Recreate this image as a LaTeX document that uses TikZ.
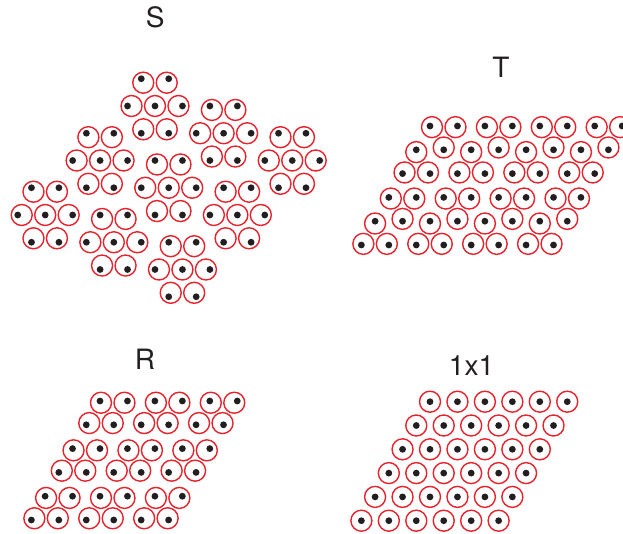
\documentclass[tikz,border=0pt]{standalone}
\usepackage{fontspec}
\setmainfont{TeX Gyre Heros}
\definecolor{ringred}{RGB}{232,34,44}
\definecolor{dotblack}{RGB}{35,31,32}
\tikzset{
  ring/.style={draw=ringred, line width=1.4pt},
  dotc/.style={fill=dotblack},
  lbl/.style={font=\fontsize{28}{30}\selectfont, text=dotblack, inner sep=0pt}
}
\def\ff{0.145}
% #1 X0, #2 Y0, #3 row spacing, #4 i, #5 j, #6 centroid i, #7 centroid j
\newcommand\atomsite[7]{%
  \pgfmathsetmacro\mydX{#1+27.45*(#4)-13.725*(#5)}%
  \pgfmathsetmacro\mydY{#2+#3*(#5)}%
  \pgfmathsetmacro\myii{(#4)+\ff*((#6)-(#4))}%
  \pgfmathsetmacro\myjj{(#5)+\ff*((#7)-(#5))}%
  \pgfmathsetmacro\mycX{#1+27.45*\myii-13.725*\myjj}%
  \pgfmathsetmacro\mycY{#2+#3*\myjj}%
  \draw[ring] (\mycX,\mycY) circle[radius=10.5pt];
  \fill[dotc] (\mydX,\mydY) circle[radius=3.4pt];
}
\begin{document}
\begin{tikzpicture}[x=1pt,y=-1pt]
\useasboundingbox (0,0) rectangle (623,534);
\clip (0,0) rectangle (623,534);
% labels
\node[lbl] (labS) at (155.3,17) {S};
\node[lbl] (labT) at (500.8,67.5) {T};
\node[lbl] (labR) at (145,359) {R};
\node[lbl] (lab11) at (471.5,365.5) {1x1};
% S panel: 3x3 hexagonal clusters of seven atoms
\foreach \m in {0,1,2} {
  \foreach \n in {0,1,2} {
    \pgfmathsetmacro\CI{3*\m-\n}
    \pgfmathsetmacro\CJ{\m+2*\n}
    \foreach \di/\dj in {0/0,1/0,-1/0,0/1,0/-1,1/1,-1/-1} {
      \atomsite{155}{106}{27.25}{\CI+\di}{\CJ+\dj}{\CI}{\CJ}
    }
  }
}
% T panel: trimers
\foreach \b in {0,1} {
  \foreach \k in {0,...,3} {
    \atomsite{430}{126}{23.8}{2*\k}{3*\b}{2*\k+2/3}{3*\b+1/3}
    \atomsite{430}{126}{23.8}{2*\k+1}{3*\b}{2*\k+2/3}{3*\b+1/3}
    \atomsite{430}{126}{23.8}{2*\k+1}{3*\b+1}{2*\k+2/3}{3*\b+1/3}
    \atomsite{430}{126}{23.8}{2*\k}{3*\b+1}{2*\k+1/3}{3*\b+5/3}
    \atomsite{430}{126}{23.8}{2*\k}{3*\b+2}{2*\k+1/3}{3*\b+5/3}
    \atomsite{430}{126}{23.8}{2*\k+1}{3*\b+2}{2*\k+1/3}{3*\b+5/3}
  }
}
% R panel: tetramers
\foreach \p in {0,1,2} {
  \foreach \q in {0,1,2} {
    \foreach \di in {0,1} {
      \foreach \dj in {0,1} {
        \atomsite{100}{401}{23.8}{2*\p+\di}{2*\q+\dj}{2*\p+0.5}{2*\q+0.5}
      }
    }
  }
}
% 1x1 panel
\foreach \j in {0,...,5} {
  \foreach \i in {0,...,5} {
    \atomsite{430}{401.7}{23.8}{\i}{\j}{\i}{\j}
  }
}
\end{tikzpicture}
\end{document}
